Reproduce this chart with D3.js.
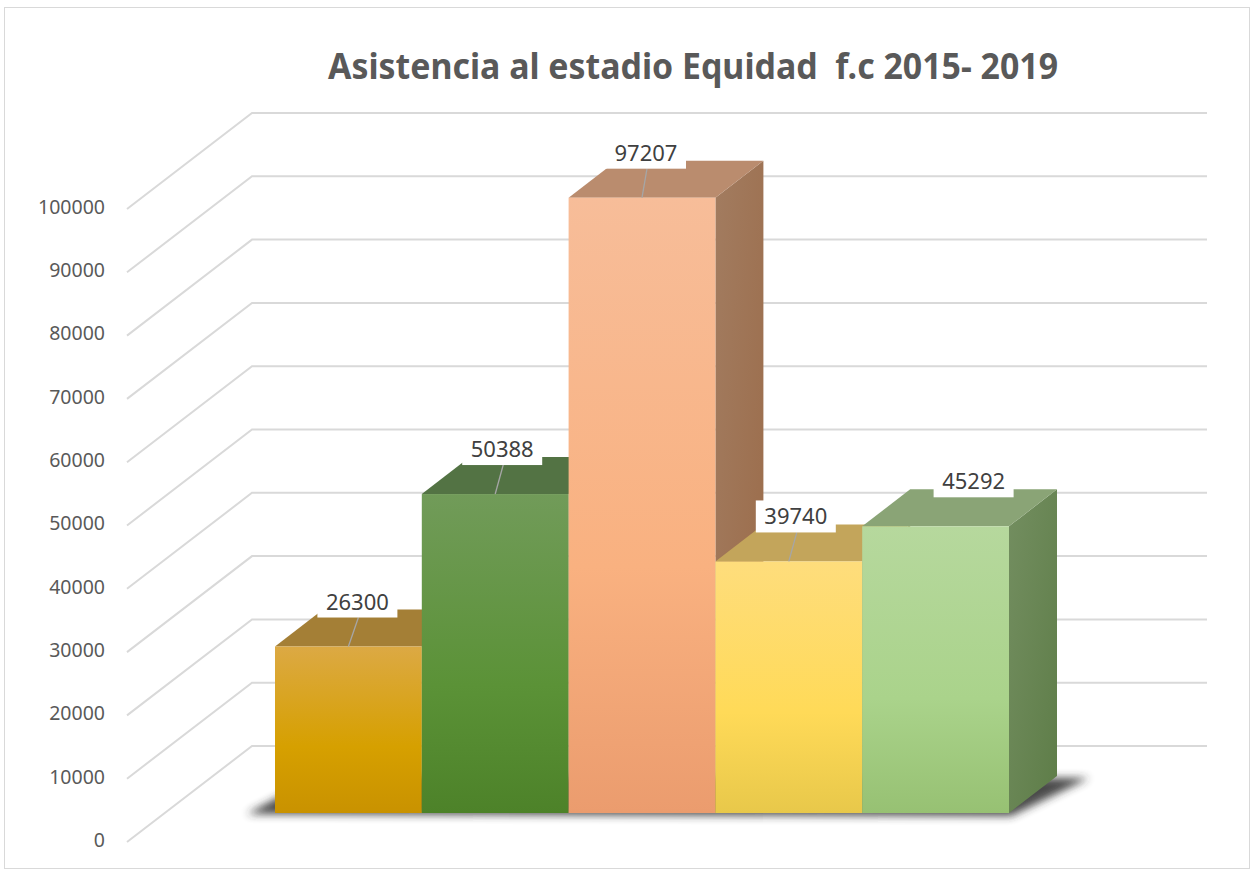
<!DOCTYPE html>
<html><head><meta charset="utf-8">
<script src="https://cdn.jsdelivr.net/npm/d3@7"></script>
<style>html,body{margin:0;padding:0;background:#fff;}svg{display:block;}</style>
</head><body>
<svg id="chart" width="1252" height="871"></svg>
<script>
const titleText = "Asistencia al estadio Equidad  f.c 2015- 2019";
const years = ["2015", "2016", "2017", "2018", "2019"];
const asistencia = [26300, 50388, 97207, 39740, 45292];
const yTicks = [0, 10000, 20000, 30000, 40000, 50000, 60000, 70000, 80000, 90000, 100000];

const palette = [
  {front: ["#DCA944", "#D6A000", "#C99200"], top: "#A47F36", side: ["#8E6E2C", "#7E611F"]},
  {front: ["#719B59", "#5B9237", "#4D8229"], top: "#537344", side: ["#4A6A38", "#3E5A2C"]},
  {front: ["#F7BD99", "#F9B180", "#EB9C6E"], top: "#BA8C6E", side: ["#A27C60", "#9B6B49"]},
  {front: ["#FEDD7C", "#FFDA58", "#E8C84A"], top: "#C3A55B", side: ["#9E8844", "#8C7634"]},
  {front: ["#B6D89D", "#AAD38B", "#97C173"], top: "#8AA476", side: ["#738E60", "#5E7D48"]}
];

const svg = d3.select("#chart");
const defs = svg.append("defs");

// frame
svg.append("rect").attr("x", 4.5).attr("y", 7.5).attr("width", 1245).attr("height", 861)
  .attr("fill", "#fff").attr("stroke", "#d9d9d9").attr("stroke-width", 1);

// title
svg.append("text").attr("x", 693).attr("y", 79).attr("text-anchor", "middle")
  .attr("font-family", "'Noto Sans', sans-serif").attr("font-weight", "bold")
  .attr("font-size", 36).attr("fill", "#595959")
  .attr("textLength", 730).attr("lengthAdjust", "spacingAndGlyphs")
  .style("white-space", "pre")
  .text(titleText);

// 3D geometry
const h = d3.scaleLinear().domain([0, 100000]).range([0, 633]);
const frontX = 127, frontY0 = 842;       // front edge of left wall
const wallDX = 125, wallDY = -96;        // full depth vector
const wallRight = 1207;

// gridlines: left wall diagonal + back wall horizontal
const grid = svg.append("g");
yTicks.forEach(v => {
  const yf = frontY0 - h(v);
  const yb = yf + wallDY;
  grid.append("path")
    .attr("d", `M${frontX},${yf}L${frontX + wallDX},${yb}L${wallRight},${yb}`)
    .attr("fill", "none").attr("stroke", "#d9d9d9").attr("stroke-width", 2);
});

// y axis labels
svg.append("g").selectAll("text").data(yTicks).join("text")
  .attr("x", 105).attr("y", d => frontY0 - h(d) - 2)
  .attr("dy", "0.35em").attr("text-anchor", "end")
  .attr("font-family", "'Noto Sans', sans-serif").attr("font-size", 19.5)
  .attr("fill", "#595959").text(d => d3.format("d")(d));

// bars
const x = d3.scaleBand().domain(years).range([275, 1009]).padding(0);
const baseY = 813;
const bdx = 48, bdy = -37;

// shadow under bars
const blur = defs.append("filter").attr("id", "blur").attr("x", "-20%").attr("y", "-50%")
  .attr("width", "140%").attr("height", "200%");
blur.append("feGaussianBlur").attr("stdDeviation", 4);
const x0 = x(years[0]), x1 = x(years[years.length - 1]) + x.bandwidth();
svg.append("path")
  .attr("d", `M${x0 - 28},${baseY + 1}L${x1 + 2},${baseY + 3}L${x1 + bdx + 32},${baseY + bdy + 2}L${x0 + bdx - 5},${baseY + bdy}Z`)
  .attr("fill", "#2a2a2a").attr("opacity", 0.85).attr("filter", "url(#blur)");

years.forEach((yr, i) => {
  const p = palette[i];
  const gf = defs.append("linearGradient").attr("id", "gf" + i)
    .attr("x1", 0).attr("y1", 0).attr("x2", 0).attr("y2", 1);
  gf.append("stop").attr("offset", "0%").attr("stop-color", p.front[0]);
  gf.append("stop").attr("offset", "60%").attr("stop-color", p.front[1]);
  gf.append("stop").attr("offset", "100%").attr("stop-color", p.front[2]);
  const gs = defs.append("linearGradient").attr("id", "gs" + i)
    .attr("x1", 0).attr("y1", 0).attr("x2", 1).attr("y2", 1);
  gs.append("stop").attr("offset", "0%").attr("stop-color", p.side[0]);
  gs.append("stop").attr("offset", "100%").attr("stop-color", p.side[1]);
});

const barG = svg.append("g");
asistencia.forEach((v, i) => {
  const xl = x(years[i]), xr = xl + x.bandwidth();
  const yt = baseY - h(v);
  const g = barG.append("g");
  // side face
  g.append("path")
    .attr("d", `M${xr},${yt}L${xr + bdx},${yt + bdy}L${xr + bdx},${baseY + bdy}L${xr},${baseY}Z`)
    .attr("fill", `url(#gs${i})`);
  // top face
  g.append("path")
    .attr("d", `M${xl},${yt}L${xr},${yt}L${xr + bdx},${yt + bdy}L${xl + bdx},${yt + bdy}Z`)
    .attr("fill", palette[i].top);
  // front face
  g.append("rect").attr("x", xl).attr("y", yt).attr("width", x.bandwidth()).attr("height", h(v))
    .attr("fill", `url(#gf${i})`);
});

// data labels
const labelShift = [9, 7, 4, 7, 38];
const lab = svg.append("g");
asistencia.forEach((v, i) => {
  const cx = x(years[i]) + x.bandwidth() / 2;
  const yt = baseY - h(v);
  const lx = cx + labelShift[i];
  const boxBottom = yt - 29;
  if (i < 4) {
    lab.append("line").attr("x1", lx + 1).attr("y1", boxBottom).attr("x2", cx).attr("y2", yt)
      .attr("stroke", "#a6a6a6").attr("stroke-width", 1.3);
  }
  lab.append("rect").attr("x", lx - 40).attr("y", boxBottom - 32).attr("width", 80).attr("height", 32)
    .attr("fill", "#fff");
  lab.append("text").attr("x", lx).attr("y", boxBottom - 8).attr("text-anchor", "middle")
    .attr("font-family", "'Noto Sans', sans-serif").attr("font-size", 22)
    .attr("fill", "#404040").text(v);
});
</script>
</body></html>
